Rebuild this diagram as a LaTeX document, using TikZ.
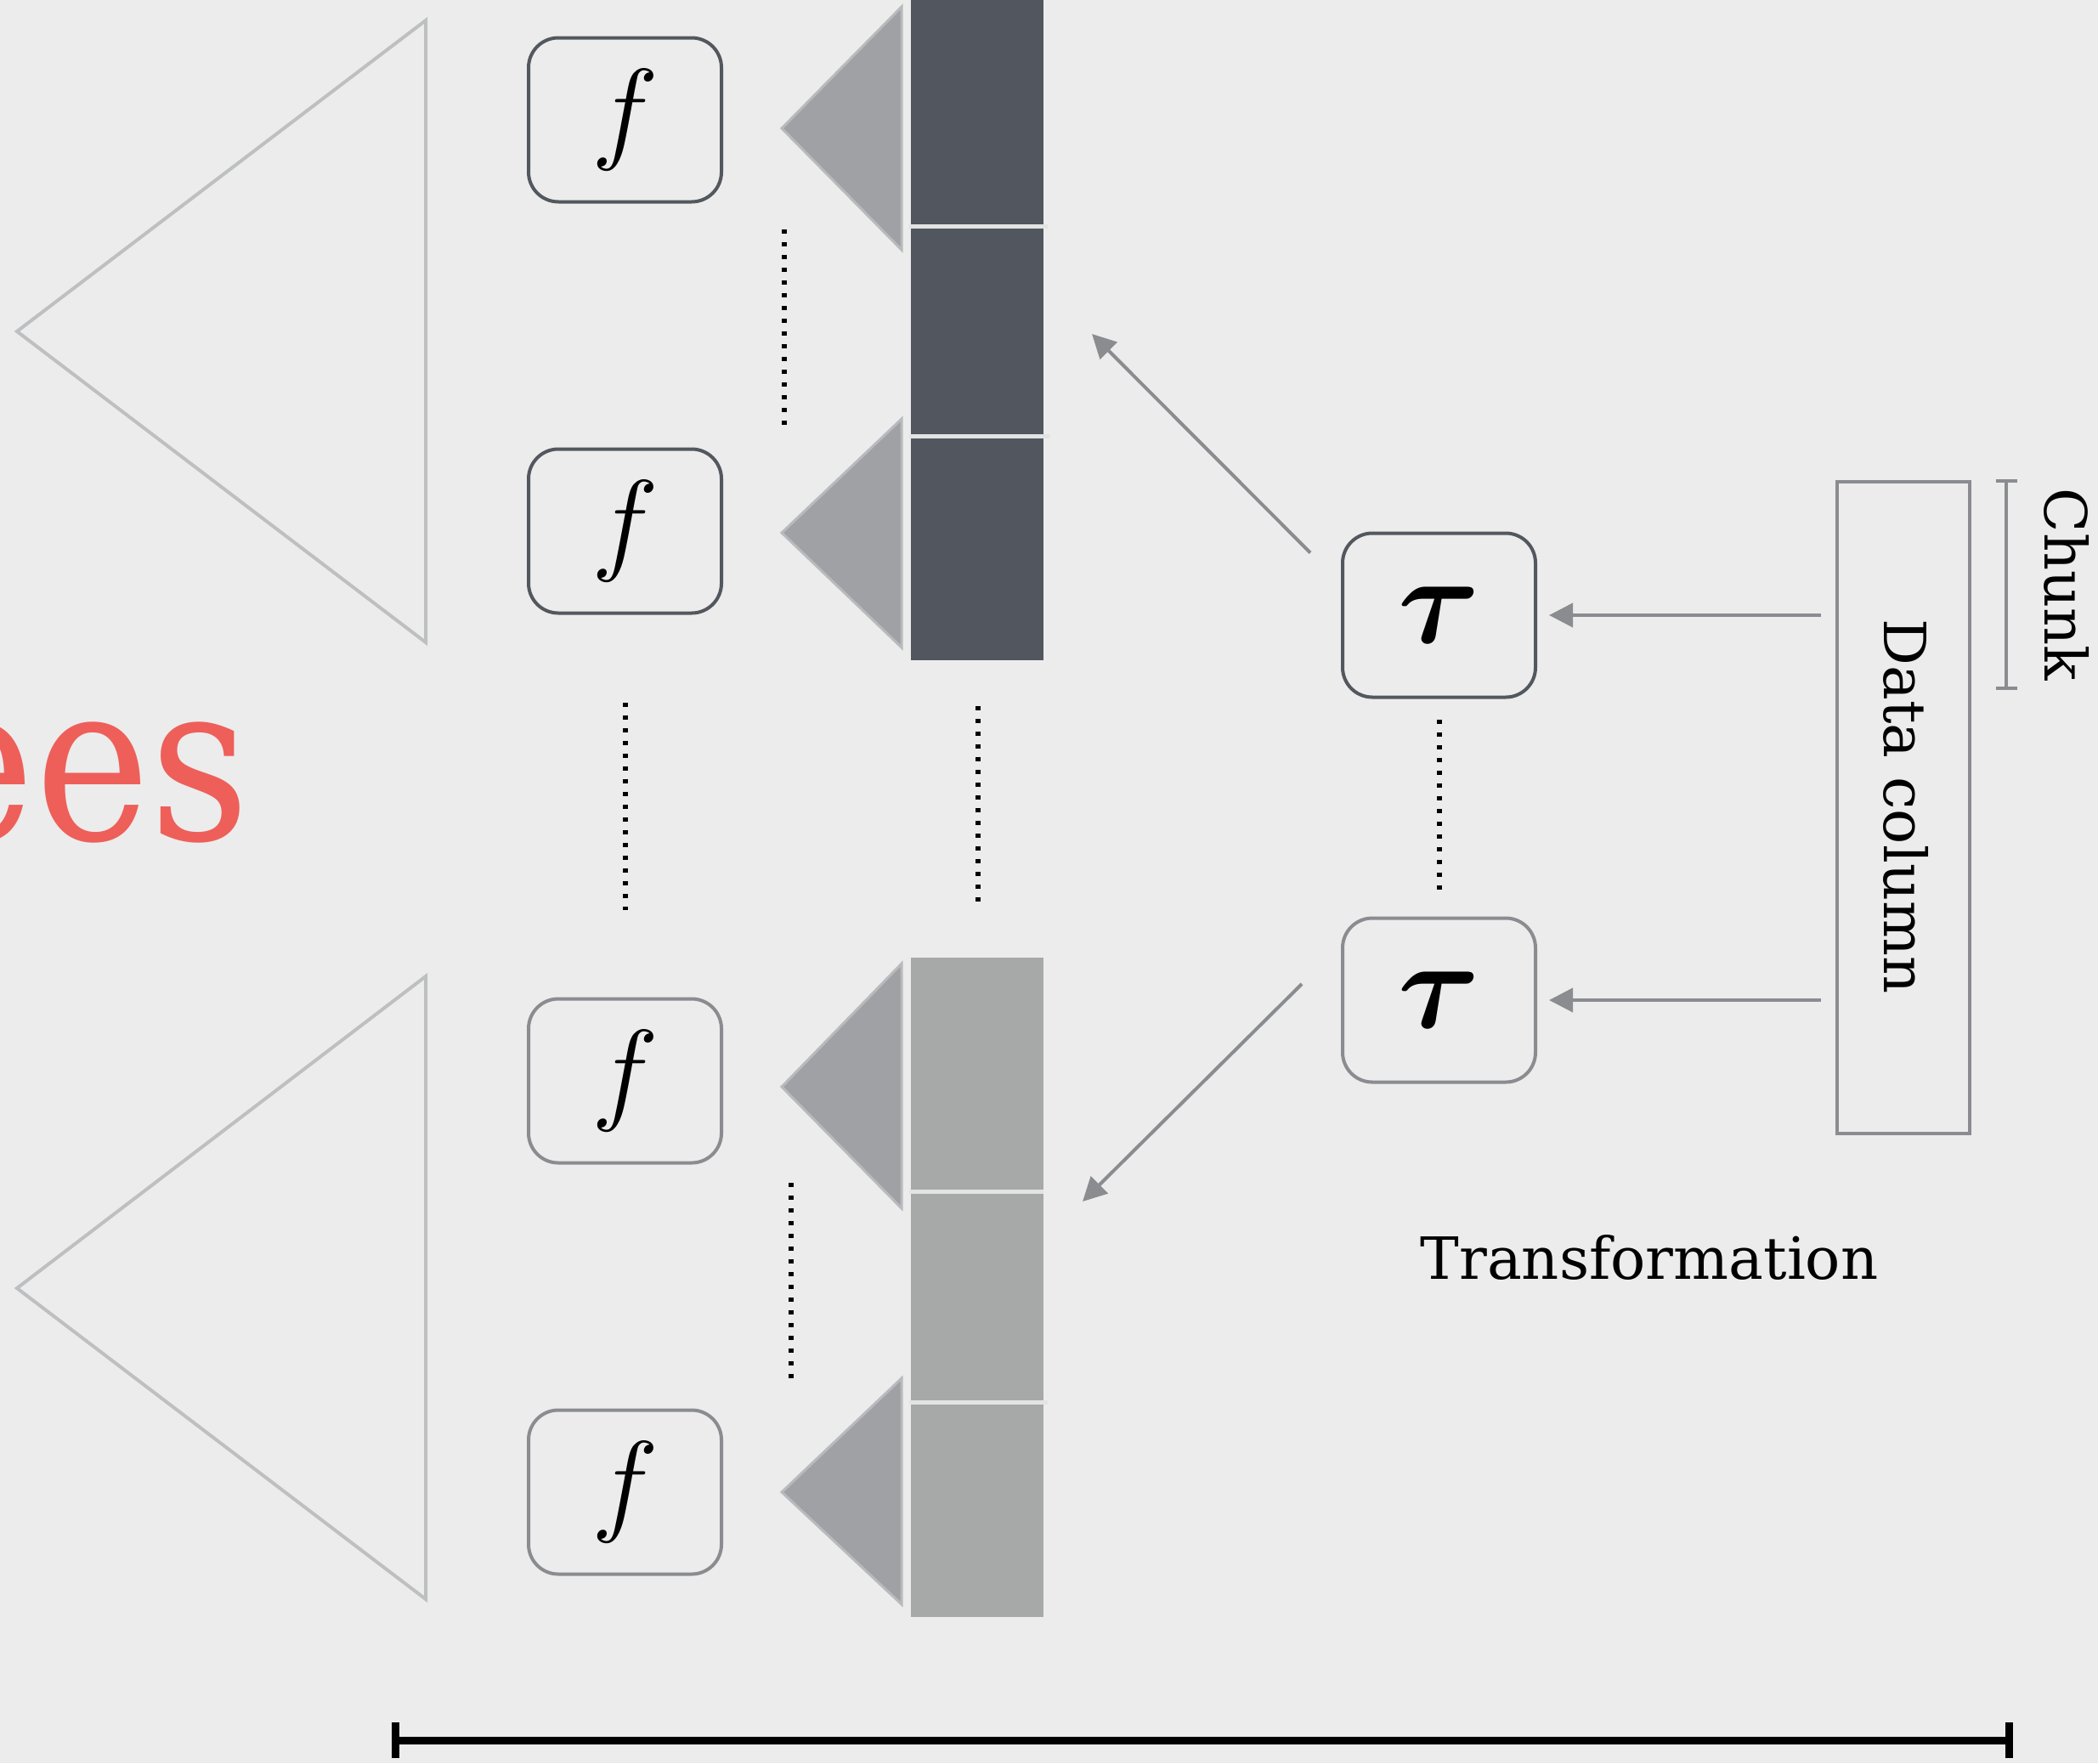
\RequirePackage{fix-cm}
\documentclass[tikz,border=0pt]{standalone}
\usepackage{bm}
\usepackage{fontspec}
\setmainfont{DejaVu Serif}
\usetikzlibrary{arrows.meta}

\definecolor{fondo}{HTML}{ECECEC}
\definecolor{trigris}{HTML}{BEBFC1}
\definecolor{trirelleno}{HTML}{A0A1A5}
\definecolor{triborde}{HTML}{B9BABD}
\definecolor{colosc}{HTML}{52565E}
\definecolor{colcla}{HTML}{A6A9A8}
\definecolor{separa}{HTML}{E3E3E3}
\definecolor{cajaosc}{HTML}{53575E}
\definecolor{cajacla}{HTML}{8A8C90}
\definecolor{rojo}{HTML}{EE5F5A}

\tikzset{
  fbox/.style={draw, rounded corners=0.35cm, line width=0.04cm, minimum width=2.27cm,
    minimum height=1.93cm, inner sep=0pt, font=\fontsize{38}{40}\selectfont},
  darkbox/.style={fbox, draw=cajaosc},
  lightbox/.style={fbox, draw=cajacla},
  bigtri/.style={draw=trigris, line width=0.04cm, line join=miter},
  smalltri/.style={fill=trirelleno, draw=triborde, line width=0.03cm},
  sep/.style={draw=separa, line width=0.05cm},
  puntos/.style={line width=0.06cm, dash pattern=on 0.05cm off 0.1cm},
  arr/.style={draw=cajacla, line width=0.04cm, -{Triangle[length=0.28cm,width=0.28cm]}},
  etiqueta/.style={font=\fontsize{19.5}{22}\selectfont, inner sep=0pt},
  colbox/.style={draw=cajacla, line width=0.04cm, minimum width=1.56cm, minimum height=7.67cm, inner sep=0pt}
}

\begin{document}
\begin{tikzpicture}
    \useasboundingbox (0,0) rectangle (24.69,-20.75);
    \clip (0,0) rectangle (24.69,-20.75);
    \fill[fondo] (0,0) rectangle (24.69,-20.75);

    % Triangulos grandes
    \draw[bigtri] (0.20,-3.90) -- (5.01,-0.24) -- (5.01,-7.56) -- cycle;
    \draw[bigtri] (0.20,-15.16) -- (5.01,-11.49) -- (5.01,-18.82) -- cycle;

    \node[text=rojo, font=\fontsize{74}{80}\selectfont, anchor=base east, inner sep=0pt] (ees) at (2.95,-9.88) {\scalebox{0.88}[1]{ees}};

    % Cajas f
    \node[darkbox] (f1) at (7.355,-1.41) {$f$};
    \node[darkbox] (f2) at (7.355,-6.25) {$f$};
    \node[lightbox] (f3) at (7.355,-12.72) {$f$};
    \node[lightbox] (f4) at (7.355,-17.56) {$f$};

    % Triangulos pequenos
    \filldraw[smalltri] (9.20,-1.51) -- (10.61,-0.08) -- (10.61,-2.94) -- cycle;
    \filldraw[smalltri] (9.20,-6.27) -- (10.61,-4.93) -- (10.61,-7.62) -- cycle;
    \filldraw[smalltri] (9.20,-12.79) -- (10.61,-11.34) -- (10.61,-14.22) -- cycle;
    \filldraw[smalltri] (9.20,-17.56) -- (10.61,-16.22) -- (10.61,-18.88) -- cycle;

    % Columnas
    \fill[colosc] (10.72,0) rectangle (12.28,-7.77);
    \fill[colcla] (10.72,-11.27) rectangle (12.28,-19.03);
    \draw[sep] (10.70,-2.66) -- (12.33,-2.66);
    \draw[sep] (10.70,-5.13) -- (12.36,-5.13);
    \draw[sep] (10.70,-14.02) -- (12.28,-14.02);
    \draw[sep] (10.70,-16.50) -- (12.33,-16.50);

    % Puntos suspensivos
    \draw[puntos] (9.23,-2.70) -- (9.23,-5.10);
    \draw[puntos, shorten <=1.03cm, shorten >=1.03cm] (f2) -- (f3);
    \draw[puntos] (11.51,-8.31) -- (11.51,-10.71);
    \draw[puntos] (9.31,-13.92) -- (9.31,-16.31);

    % Transformaciones
    \node[darkbox, font=\fontsize{42}{44}\selectfont] (tau1) at (16.935,-7.24) {$\bm{\tau}$};
    \node[lightbox, font=\fontsize{42}{44}\selectfont] (tau2) at (16.935,-11.77) {$\bm{\tau}$};
    \draw[puntos, shorten <=0.24cm, shorten >=0.22cm] (tau1) -- (tau2);

    \coordinate (upTip) at (12.85,-3.93);
    \coordinate (lowTip) at (12.74,-14.14);
    \draw[arr] ([shift={(-0.36,-0.25)}]tau1.north west) -- (upTip);
    \draw[arr] ([shift={(-0.46,0.19)}]tau2.west) -- (lowTip);

    % Columna de datos
    \node[colbox] (col) at (22.40,-9.505) {};
    \node[etiqueta, rotate=-90] (coltext) at (22.43,-9.49) {Data column};
    \draw[arr, shorten <=0.17cm, shorten >=0.14cm] (col.west |- tau1.east) -- (tau1.east);
    \draw[arr, shorten <=0.17cm, shorten >=0.14cm] (col.west |- tau2.east) -- (tau2.east);

    % Chunk
    \coordinate (chunkT) at (23.61,-5.64);
    \coordinate (chunkB) at (23.61,-8.12);
    \draw[draw=cajacla, line width=0.04cm, {Bar[width=0.25cm]}-{Bar[width=0.25cm]}] (chunkT) -- (chunkB);
    \node[etiqueta, rotate=-90] (chunk) at (24.32,-6.88) {Chunk};

    \node[etiqueta] (trans) at (19.41,-14.80) {Transformation};

    % Barra inferior
    \coordinate (barL) at (4.61,-20.48);
    \coordinate (barR) at (23.69,-20.48);
    \draw[line width=0.09cm, {Bar[width=0.42cm]}-{Bar[width=0.42cm]}] (barL) -- (barR);
\end{tikzpicture}
\end{document}
